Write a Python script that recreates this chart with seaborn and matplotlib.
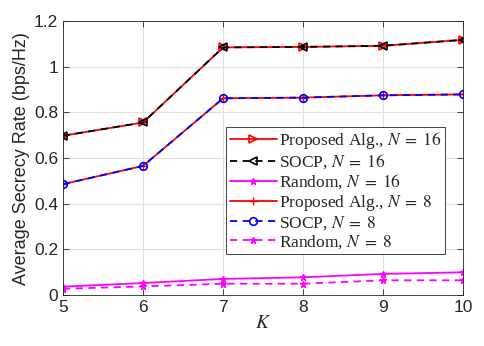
import matplotlib
matplotlib.use("Agg")
import matplotlib.pyplot as plt
import seaborn as sns
import pandas as pd

K = [5, 6, 7, 8, 9, 10]
proposed_16 = [0.698, 0.756, 1.085, 1.087, 1.092, 1.118]
socp_16 = [0.698, 0.756, 1.085, 1.087, 1.092, 1.118]
random_16 = [0.037, 0.053, 0.071, 0.078, 0.093, 0.100]
proposed_8 = [0.486, 0.566, 0.862, 0.865, 0.875, 0.879]
socp_8 = [0.486, 0.566, 0.862, 0.865, 0.875, 0.879]
random_8 = [0.028, 0.038, 0.050, 0.050, 0.065, 0.065]

labels = [r"Proposed Alg., $N\;=\;16$", r"SOCP, $N\;=\;16$", r"Random, $N\;=\;16$",
          r"Proposed Alg., $N\;=\;8$", r"SOCP, $N\;=\;8$", r"Random, $N\;=\;8$"]
series = [proposed_16, socp_16, random_16, proposed_8, socp_8, random_8]

sns.set_style("ticks")
plt.rcParams['font.family'] = ['Liberation Sans', 'DejaVu Sans']
plt.rcParams['mathtext.fontset'] = 'stix'

styles = [
    dict(color='red', ls='-', marker='>', mfc='none', ms=5.5, mew=1.2),
    dict(color='black', ls=(0, (4, 3)), marker='<', mfc='none', ms=5.5, mew=1.2),
    dict(color='magenta', ls='-', marker='*', mfc='magenta', ms=5, mew=1.0),
    dict(color='red', ls='-', marker='+', mfc='none', ms=6, mew=1.0),
    dict(color='blue', ls=(0, (4, 3)), marker='o', mfc='none', ms=5.5, mew=1.2),
    dict(color='magenta', ls=(0, (4, 3)), marker='*', mfc='magenta', ms=5, mew=1.0),
]

fig = plt.figure(figsize=(4.85, 3.46), dpi=100)
ax = fig.add_axes([0.13, 0.147, 0.825, 0.792])

for vals, lab, st in zip(series, labels, styles):
    df = pd.DataFrame({"K": K, "rate": vals})
    sns.lineplot(data=df, x="K", y="rate", ax=ax, label=lab,
                 color=st['color'], linestyle=st['ls'], marker=st['marker'],
                 markerfacecolor=st['mfc'], markeredgecolor=st['color'],
                 markersize=st['ms'], markeredgewidth=st['mew'], linewidth=1.3)

ax.set_xlim(5, 10)
ax.set_ylim(0, 1.2)
ax.set_xticks(K)
ax.set_yticks([0, 0.2, 0.4, 0.6, 0.8, 1.0, 1.2])
ax.set_yticklabels(["0", "0.2", "0.4", "0.6", "0.8", "1", "1.2"])
ax.grid(True, color='#e0e0e0', linewidth=0.8)
ax.set_axisbelow(True)
for sp in ax.spines.values():
    sp.set_visible(True)
    sp.set_color('#262626')
    sp.set_linewidth(0.6)
ax.tick_params(direction='in', length=4, width=0.6, labelsize=12.5, colors='#262626',
               top=True, right=True, labelcolor='#262626')
ax.set_xlabel(r"$K$", fontsize=14, color='#262626', labelpad=0)
ax.set_ylabel("Average Secrecy Rate (bps/Hz)", fontsize=13, color='#262626', labelpad=3)

leg = ax.legend(loc='upper right', bbox_to_anchor=(0.955, 0.615), frameon=True,
                fancybox=False, edgecolor='#262626', framealpha=1,
                prop={'family': ['Liberation Serif'], 'size': 12.5},
                handlelength=2.7, handletextpad=0.15, labelspacing=0.08,
                borderpad=0.2, borderaxespad=0)
leg.get_frame().set_linewidth(0.6)

fig.savefig("out.png", dpi=100)
